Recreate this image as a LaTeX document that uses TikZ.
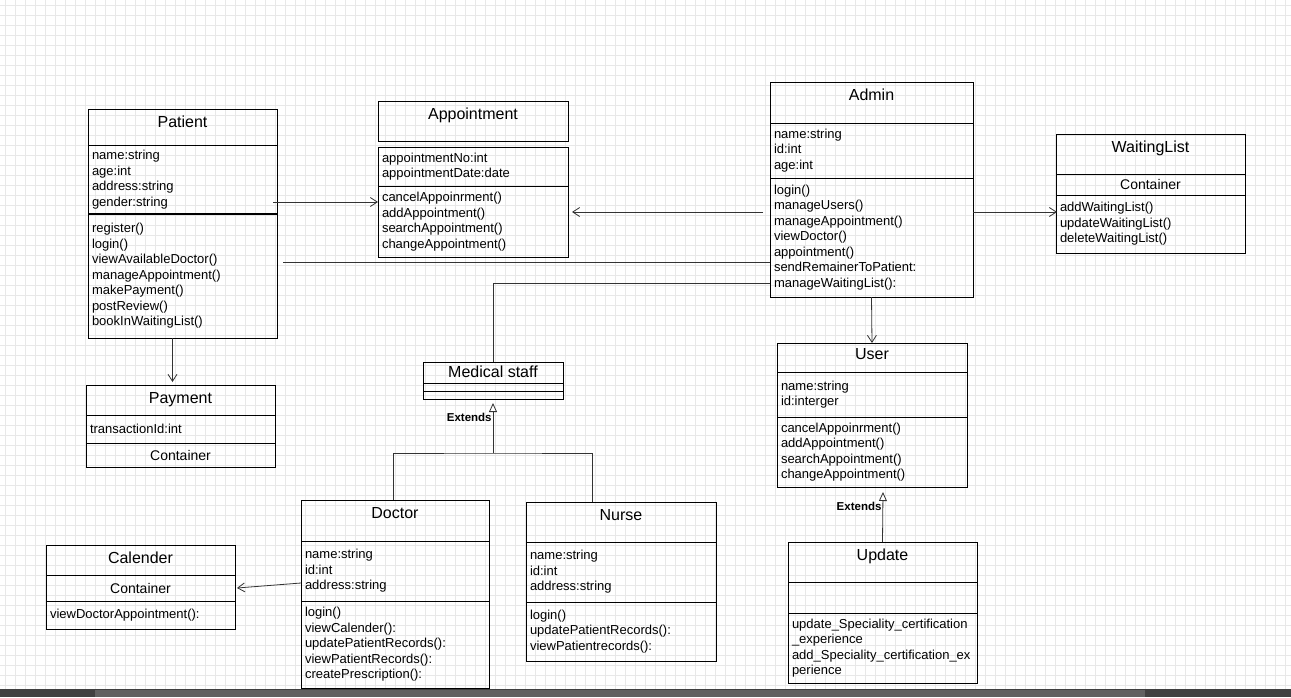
\documentclass[tikz,border=0pt]{standalone}
\usepackage{fontspec}
\setmainfont{Liberation Sans}
\usetikzlibrary{arrows.meta,positioning}

\begin{document}
\begin{tikzpicture}[
    x=1pt, y=-1pt,
    head/.style 2 args={
        draw=black, line width=0.9pt,
        anchor=north west, inner sep=0pt, outer sep=0pt,
        minimum width=#1, text height=18pt, text depth=#2,
        font=\fontsize{16}{19}\selectfont
    },
    part/.style 2 args={
        draw=black, line width=0.9pt,
        anchor=north west, inner xsep=4pt, inner ysep=0pt, outer sep=0pt,
        minimum width=#1, minimum height=#2, text width=#1-8pt,
        align=left, font=\fontsize{13}{15.5}\selectfont
    },
    store/.style 2 args={part={#1}{#2}, align=center, font=\fontsize{14}{16}\selectfont},
    arrow/.style={-{Straight Barb[length=7pt,width=9pt]}, line width=0.8pt, draw=black!80},
    line/.style={line width=0.8pt, draw=black!80},
    extends/.style={-{Triangle[open,length=9pt,width=8pt]}, line width=0.8pt, draw=black!80},
    tag/.style={font=\fontsize{11.5}{13}\selectfont\bfseries, inner sep=1pt},
    gridline/.style={draw=black!9, line width=0.5pt}
]

% --- Nền: lưới và thanh dưới ---
\useasboundingbox (0,0) rectangle (1291,697);
\fill[white] (0,0) rectangle (1291,697);
\foreach \gx in {5,15,...,1285} \draw[gridline] (\gx,0) -- (\gx,689);
\foreach \gy in {5,15,...,685} \draw[gridline] (0,\gy) -- (1291,\gy);
\fill[black!75] (0,689) rectangle (1291,697);
\fill[black!62] (95,690) rectangle (1145,697);

% --- Patient ---
\node[head={189pt}{18pt}] (patient) at (88,109) {Patient};
\node[part={189pt}{69pt}] (patientA) at (patient.south west) {name:string\\age:int\\address:string\\gender:string};
\node[part={189pt}{124pt}] (patientM) at (patientA.south west) {register()\\login()\\viewAvailableDoctor()\\manageAppointment()\\makePayment()\\postReview()\\bookInWaitingList()};
\draw[line width=1.8pt] (patientM.north west) -- (patientM.north east);

% --- Appointment ---
\node[head={190pt}{22pt}] (appt) at (378,101) {Appointment};
\node[part={190pt}{39pt}, yshift=-6pt] (apptA) at (appt.south west) {appointmentNo:int\\appointmentDate:date};
\node[part={190pt}{71pt}] (apptM) at (apptA.south west) {cancelAppoinrment()\\addAppointment()\\searchAppointment()\\changeAppointment()};

% --- Admin ---
\node[head={203pt}{23pt}] (admin) at (770,82) {Admin};
\node[part={203pt}{55pt}] (adminA) at (admin.south west) {name:string\\id:int\\age:int};
\node[part={203pt}{119pt}] (adminM) at (adminA.south west) {login()\\manageUsers()\\manageAppointment()\\viewDoctor()\\appointment()\\sendRemainerToPatient:\\manageWaitingList():};

% --- WaitingList ---
\node[head={189pt}{22pt}] (wait) at (1056,134) {WaitingList};
\node[store={189pt}{21pt}] (waitC) at (wait.south west) {Container};
\node[part={189pt}{58pt}] (waitM) at (waitC.south west) {addWaitingList()\\updateWaitingList()\\deleteWaitingList()};

% --- Payment ---
\node[head={189pt}{12pt}] (payment) at (86,385) {Payment};
\node[part={189pt}{28pt}] (paymentA) at (payment.south west) {transactionId:int};
\node[store={189pt}{24pt}] (paymentC) at (paymentA.south west) {Container};

% --- Medical staff ---
\node[head={140pt}{6pt}, text height=15pt] (staff) at (423,362) {Medical staff};
\node[part={140pt}{8pt}] (staffA) at (staff.south west) {};
\node[part={140pt}{8pt}] (staffM) at (staffA.south west) {};

% --- User ---
\node[head={190pt}{13pt}, text height=16pt] (user) at (777,343) {User};
\node[part={190pt}{45pt}] (userA) at (user.south west) {name:string\\id:interger};
\node[part={190pt}{70pt}] (userM) at (userA.south west) {cancelAppoinrment()\\addAppointment()\\searchAppointment()\\changeAppointment()};

% --- Doctor ---
\node[head={188pt}{23pt}] (doctor) at (301,500) {Doctor};
\node[part={188pt}{60pt}] (doctorA) at (doctor.south west) {name:string\\id:int\\address:string};
\node[part={188pt}{87pt}] (doctorM) at (doctorA.south west) {login()\\viewCalender():\\updatePatientRecords():\\viewPatientRecords():\\createPrescription():};

% --- Nurse ---
\node[head={190pt}{22pt}] (nurse) at (526,502) {Nurse};
\node[part={190pt}{60pt}] (nurseA) at (nurse.south west) {name:string\\id:int\\address:string};
\node[part={190pt}{59pt}] (nurseM) at (nurseA.south west) {login()\\updatePatientRecords():\\viewPatientrecords():};

% --- Calender ---
\node[head={189pt}{12pt}] (cal) at (46,545) {Calender};
\node[store={189pt}{26pt}] (calC) at (cal.south west) {Container};
\node[part={189pt}{28pt}] (calM) at (calC.south west) {viewDoctorAppointment():};

% --- Update ---
\node[head={189pt}{22pt}] (update) at (788,542) {Update};
\node[part={189pt}{31pt}] (updateA) at (update.south west) {};
\node[part={189pt}{70pt}] (updateM) at (updateA.south west) {update\_Speciality\_certification\\\_experience\\add\_Speciality\_certification\_ex\\perience};

% --- Mũi tên ---
\draw[arrow] ([xshift=-4pt,yshift=12pt]patientA.south east) -- ([yshift=-16pt]apptM.north west);
\draw[arrow] ([xshift=-7pt,yshift=-34pt]adminM.north west) -- ([xshift=4pt,yshift=-26pt]apptM.north east);
\draw[line] ([xshift=6pt,yshift=-48pt]patientM.north east) -- ([yshift=-84pt]adminM.north west);
\draw[line] ([yshift=-105pt]adminM.north west) -| (staff.north);
\draw[arrow] ([xshift=-10pt]patientM.south) -- ([xshift=-8pt,yshift=3pt]payment.north);
\draw[arrow] ([yshift=-34pt]adminM.north east) -- ([xshift=1pt,yshift=-17pt]waitM.north west);
\draw[arrow] (adminM.south) -- (user.north);
\draw[arrow] ([yshift=-42pt]doctorA.north west) -- ([xshift=2pt]calC.east);

% --- Kế thừa (Extends) ---
\coordinate (staffjoin) at ([yshift=-54pt]staffM.south);
\draw[extends] (staffjoin) -- node[tag, left, pos=0.72] {Extends} ([yshift=-4pt]staffM.south);
\draw[line] ([xshift=-2pt]doctor.north) |- (staffjoin) -| ([xshift=-29pt]nurse.north);
\draw[extends] (update.north) -- node[tag, left, pos=0.72] {Extends} ([xshift=11pt,yshift=-5pt]userM.south);

\end{tikzpicture}
\end{document}
